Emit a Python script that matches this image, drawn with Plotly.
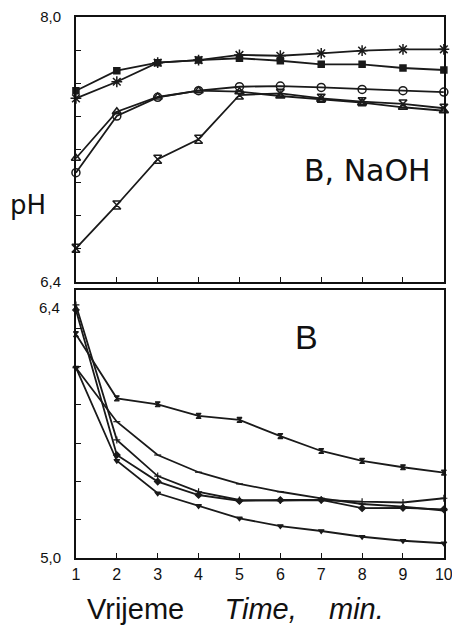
import plotly.graph_objects as go

time_min = [1, 2, 3, 4, 5, 6, 7, 8, 9, 10]

# Top panel: B, NaOH
naoh_square = [7.555, 7.676, 7.724, 7.740, 7.751, 7.736, 7.714, 7.714, 7.692, 7.680]
naoh_asterisk = [7.509, 7.609, 7.724, 7.740, 7.771, 7.766, 7.781, 7.797, 7.805, 7.805]
naoh_circle = [7.060, 7.402, 7.515, 7.555, 7.579, 7.583, 7.575, 7.563, 7.555, 7.547]
naoh_triangle = [7.147, 7.428, 7.517, 7.555, 7.549, 7.523, 7.503, 7.483, 7.455, 7.434]
naoh_hourglass = [6.603, 6.865, 7.141, 7.262, 7.529, 7.539, 7.509, 7.489, 7.475, 7.449]

# Bottom panel: B
b_upper = [6.169, 5.834, 5.803, 5.742, 5.721, 5.637, 5.559, 5.507, 5.474, 5.446]
b_second = [5.994, 5.712, 5.538, 5.448, 5.387, 5.346, 5.312, 5.282, 5.268, 5.248]
b_rising = [6.322, 5.617, 5.428, 5.346, 5.303, 5.300, 5.303, 5.294, 5.290, 5.312]
b_diamond = [6.296, 5.538, 5.399, 5.329, 5.298, 5.303, 5.303, 5.260, 5.262, 5.254]
b_lower = [5.994, 5.508, 5.338, 5.272, 5.207, 5.167, 5.141, 5.111, 5.090, 5.077]

top_y_ticks = [6.4, 6.6, 6.8, 7.0, 7.2, 7.4, 7.6, 7.8, 8.0]
top_y_text = ["6,4", "", "", "", "", "", "", "", "8,0"]
bot_y_ticks = [5.0, 5.2, 5.4, 5.6, 5.8, 6.0, 6.2, 6.4]
bot_y_text = ["5,0", "", "", "", "", "", "", ""]
bot_top_label = "6,4"
x_tick_text = ["1", "2", "3", "4", "5", "6", "7", "8", "9", "10"]

FONT = "Liberation Sans, Arial, sans-serif"
WIDE = "DejaVu Sans, Liberation Sans, sans-serif"
LINE = dict(color="#1a1a1a", width=1.8)

fig = go.Figure()

top_series = [
    (naoh_square, "square", 6),
    (naoh_asterisk, "asterisk-open", 9),
    (naoh_circle, "circle-open", 8),
    (naoh_triangle, "triangle-up-open", 8),
    (naoh_hourglass, "hourglass-open", 8),
]
for vals, sym, sz in top_series:
    fig.add_trace(go.Scatter(
        x=time_min, y=vals, mode="lines+markers", xaxis="x", yaxis="y",
        line=LINE, cliponaxis=False,
        marker=dict(symbol=sym, size=sz, color="#1a1a1a",
                    line=dict(color="#1a1a1a", width=1.5)),
        showlegend=False))

bot_series = [
    (b_upper, "hourglass"),
    (b_second, "line-ew-open"),
    (b_rising, "cross-thin-open"),
    (b_diamond, "diamond"),
    (b_lower, "triangle-down"),
]
for vals, sym in bot_series:
    fig.add_trace(go.Scatter(
        x=time_min, y=vals, mode="lines+markers", xaxis="x2", yaxis="y2",
        line=LINE, cliponaxis=False,
        marker=dict(symbol=sym, size=5, color="#1a1a1a",
                    line=dict(color="#1a1a1a", width=1.2)),
        showlegend=False))

axis_common = dict(showline=True, linecolor="#111111", linewidth=1.6, mirror=True,
                   showgrid=False, zeroline=False, ticks="inside", ticklen=5,
                   tickcolor="#111111", tickwidth=1.2, automargin=False,
                   ticklabeloverflow="allow")

fig.update_layout(
    width=452, height=630,
    margin=dict(l=0, r=0, t=0, b=0),
    paper_bgcolor="white", plot_bgcolor="white",
    font=dict(family=FONT, color="#111111"),
    xaxis=dict(domain=[0.168, 0.982], range=[1, 10], anchor="y",
               tickvals=time_min, showticklabels=False, **axis_common),
    yaxis=dict(domain=[0.5524, 0.973], range=[6.4, 8.0], anchor="x",
               tickvals=top_y_ticks, ticktext=top_y_text,
               tickfont=dict(size=15), ticklabelstandoff=10, **axis_common),
    xaxis2=dict(domain=[0.168, 0.982], range=[1, 10], anchor="y2",
                tickvals=time_min, ticktext=x_tick_text,
                tickfont=dict(size=16), ticklabelstandoff=1, **axis_common),
    yaxis2=dict(domain=[0.1143, 0.5397], range=[5.0, 6.4], anchor="x2",
                tickvals=bot_y_ticks, ticktext=bot_y_text,
                tickfont=dict(size=15), ticklabelstandoff=10, **axis_common),
    annotations=[
        dict(text=bot_top_label, x=0.168, y=6.4, xref="paper", yref="y2",
             xanchor="right", yanchor="middle", xshift=-14, yshift=-18,
             showarrow=False, font=dict(size=15, family=FONT)),
        dict(text="B, NaOH", x=0.814, y=0.7286, xref="paper", yref="paper",
             xanchor="center", yanchor="middle",
             showarrow=False, font=dict(size=30, family=WIDE)),
        dict(text="B", x=0.679, y=0.465, xref="paper", yref="paper",
             xanchor="center", yanchor="middle",
             showarrow=False, font=dict(size=34, family=FONT)),
        dict(text="pH", x=0.062, y=0.675, xref="paper", yref="paper",
             xanchor="center", yanchor="middle",
             showarrow=False, font=dict(size=26, family=WIDE)),
        dict(text="Vrijeme     <i>Time,    min.</i>", x=0.52, y=0.034,
             xref="paper", yref="paper", xanchor="center", yanchor="middle",
             showarrow=False, font=dict(size=29, family=FONT)),
    ],
)

fig.write_html(
    "out.html",
    config={"displayModeBar": False},
    post_script="document.body.style.margin='0px';document.body.style.overflow='hidden';",
)
